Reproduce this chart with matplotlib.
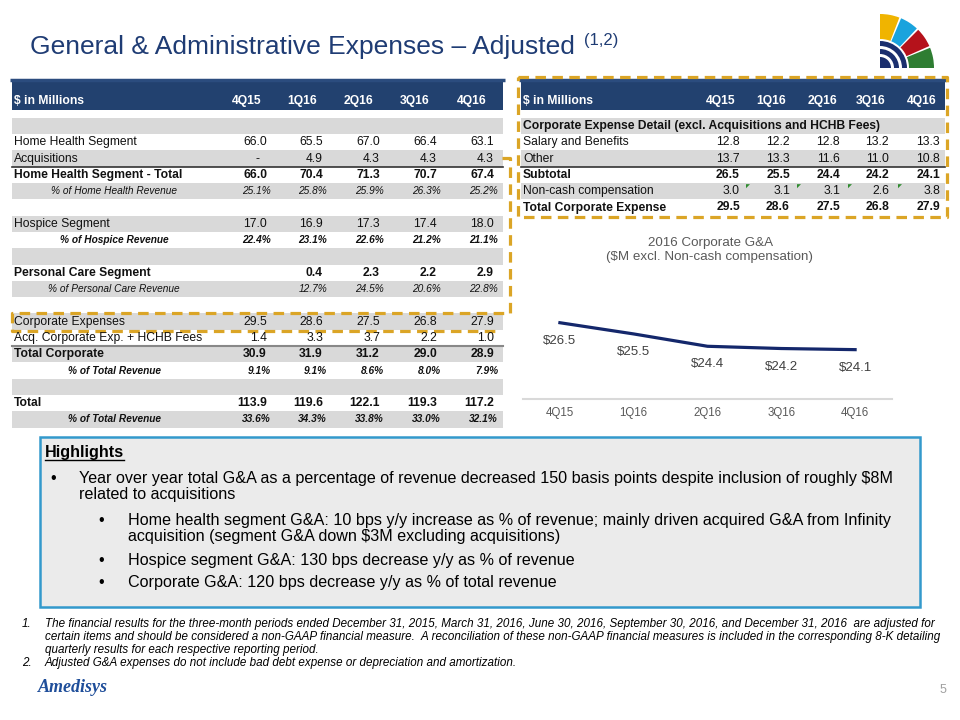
"""
G&A expenses slide: two tables, a small line chart and highlight notes
"""
import matplotlib.pyplot as plt
from matplotlib.patches import Rectangle, Wedge, Polygon

plt.rcParams['font.family'] = ['Liberation Sans', 'DejaVu Sans']

# ---- data ----
quarters = ['4Q15', '1Q16', '2Q16', '3Q16', '4Q16']

hh_segment = [66.0, 65.5, 67.0, 66.4, 63.1]
acquisitions = [0.0, 4.9, 4.3, 4.3, 4.3]
hh_total = [66.0, 70.4, 71.3, 70.7, 67.4]
hh_pct = [25.1, 25.8, 25.9, 26.3, 25.2]
hospice = [17.0, 16.9, 17.3, 17.4, 18.0]
hospice_pct = [22.4, 23.1, 22.6, 21.2, 21.1]
personal_care = [None, 0.4, 2.3, 2.2, 2.9]
pc_pct = [None, 12.7, 24.5, 20.6, 22.8]
corp_exp = [29.5, 28.6, 27.5, 26.8, 27.9]
acq_corp = [1.4, 3.3, 3.7, 2.2, 1.0]
total_corp = [30.9, 31.9, 31.2, 29.0, 28.9]
corp_pct = [9.1, 9.1, 8.6, 8.0, 7.9]
total = [113.9, 119.6, 122.1, 119.3, 117.2]
total_pct = [33.6, 34.3, 33.8, 33.0, 32.1]

salary = [12.8, 12.2, 12.8, 13.2, 13.3]
other = [13.7, 13.3, 11.6, 11.0, 10.8]
subtotal = [26.5, 25.5, 24.4, 24.2, 24.1]
noncash = [3.0, 3.1, 3.1, 2.6, 3.8]
total_corp_exp = [29.5, 28.6, 27.5, 26.8, 27.9]

left_rows = [
    ('', None, 'blank'),
    ('Home Health Segment', hh_segment, 'normal'),
    ('Acquisitions', acquisitions, 'normal'),
    ('Home Health Segment - Total', hh_total, 'bold'),
    ('% of Home Health Revenue', hh_pct, 'pct'),
    ('', None, 'blank'),
    ('Hospice Segment', hospice, 'normal'),
    ('% of Hospice Revenue', hospice_pct, 'pctb'),
    ('', None, 'blank'),
    ('Personal Care Segment', personal_care, 'bold'),
    ('% of Personal Care Revenue', pc_pct, 'pct'),
    ('', None, 'blank'),
    ('Corporate Expenses', corp_exp, 'normal'),
    ('Acq. Corporate Exp. + HCHB Fees', acq_corp, 'normal'),
    ('Total Corporate', total_corp, 'bold'),
    ('% of Total Revenue', corp_pct, 'pctb'),
    ('', None, 'blank'),
    ('Total', total, 'bold'),
    ('% of Total Revenue', total_pct, 'pctb'),
]

right_rows = [
    ('Corporate Expense Detail (excl. Acquisitions and HCHB Fees)', None, 'bold'),
    ('Salary and Benefits', salary, 'normal'),
    ('Other', other, 'normal'),
    ('Subtotal', subtotal, 'bold'),
    ('Non-cash compensation', noncash, 'normal'),
    ('Total Corporate Expense', total_corp_exp, 'bold'),
]

highlights = [
    (1, 'Year over year total G&A as a percentage of revenue decreased 150 basis points despite inclusion of roughly $8M'),
    (0, 'related to acquisitions'),
    (2, 'Home health segment G&A: 10 bps y/y increase as % of revenue; mainly driven acquired G&A from Infinity'),
    (0, 'acquisition (segment G&A down $3M excluding acquisitions)'),
    (2, 'Hospice segment G&A: 130 bps decrease y/y as % of revenue'),
    (2, 'Corporate G&A: 120 bps decrease y/y as % of total revenue'),
]

footnotes = [
    ('1.', 'The financial results for the three-month periods ended December 31, 2015, March 31, 2016, June 30, 2016, '
           'September 30, 2016, and December 31, 2016  are adjusted for'),
    ('', 'certain items and should be considered a non-GAAP financial measure.  A reconciliation of these non-GAAP '
         'financial measures is included in the corresponding 8-K detailing'),
    ('', 'quarterly results for each respective reporting period.'),
    ('2.', 'Adjusted G&A expenses do not include bad debt expense or depreciation and amortization.'),
]

NAVY = '#1F3C74'
HEADER = '#22416F'
GRAY = '#D9D9D9'
GOLD = '#DBA526'
ROW0, PITCH = 126.0, 16.3
FS, FS_PCT = 8.7, 7.3
FS_HL = 11.6

fig = plt.figure(figsize=(9.6, 7.2), dpi=100)
ax = fig.add_axes([0, 0, 1, 1])
ax.set_xlim(0, 960)
ax.set_ylim(720, 0)
ax.axis('off')


def fmt(v, pct=False):
    if v is None:
        return ''
    if v == 0:
        return '-  '
    return f'{v:.1f}%' if pct else f'{v:.1f}'


def draw_table(rows, x0, x1, label_x, hdr_right, val_right, pct_x=None):
    # header band
    ax.add_patch(Rectangle((x0, 81), x1 - x0, 29, color=HEADER, lw=0))
    ax.text(label_x, 101, '$ in Millions', color='white', fontsize=FS,
            fontweight='bold', va='center')
    for q, xr in zip(quarters, hdr_right):
        ax.text(xr, 101, q, color='white', fontsize=FS, fontweight='bold',
                va='center', ha='right')
    for i, (label, vals, kind) in enumerate(rows):
        yc = ROW0 + PITCH * i
        if i % 2 == 0:
            ax.add_patch(Rectangle((x0, yc - PITCH / 2), x1 - x0, PITCH,
                                   color=GRAY, lw=0))
        if kind == 'blank':
            continue
        pct = kind.startswith('pct')
        weight = 'bold' if kind in ('bold', 'pctb') else 'normal'
        style = 'italic' if pct else 'normal'
        size = FS_PCT if pct else FS
        if pct:
            ax.text(pct_x, yc, label, fontsize=size, fontweight=weight,
                    style=style, ha='center', va='center', color='#111111')
        else:
            ax.text(label_x, yc, label, fontsize=size, fontweight=weight,
                    va='center', color='#111111')
        if vals is None:
            continue
        for v, xr in zip(vals, val_right):
            ax.text(xr + (4 if pct else 0), yc, fmt(v, pct), fontsize=size,
                    fontweight=weight, style=style, ha='right', va='center',
                    color='#111111')


draw_table(left_rows, 12, 503, 14, [262, 317, 373, 430, 487],
           [267, 323, 380, 437, 494], pct_x=114)
draw_table(right_rows, 521, 945, 523, [735, 786, 837, 886, 937],
           [740, 790, 840, 889, 940])

# separator lines
sep_y = ROW0 + PITCH * 2.5
ax.plot([12, 503], [sep_y, sep_y], color='#333333', lw=1.2)
ax.plot([521, 945], [sep_y, sep_y], color='#333333', lw=1.2)
sep_y2 = ROW0 + PITCH * 13.5
ax.plot([12, 503], [sep_y2, sep_y2], color='#888888', lw=1.5)

# green cell markers on non-cash compensation
nc_y = ROW0 + PITCH * 4 - 7
for xm in [746, 797, 848, 898]:
    ax.add_patch(Polygon([(xm, nc_y), (xm + 4, nc_y), (xm, nc_y + 4)],
                 color='#2E8B2E', lw=0))

# title and rule
ax.text(30, 47, 'General & Administrative Expenses \u2013 Adjusted',
        fontsize=19, color=NAVY, va='center')
ax.text(584, 41, '(1,2)', fontsize=12, color=NAVY, va='center')
ax.plot([10, 505], [79.5, 79.5], color='#2B4C7E', lw=2.5,
        solid_capstyle='butt')
ax.plot([519, 946], [79.5, 79.5], color='#2B4C7E', lw=2.5,
        solid_capstyle='butt')

dash = (0, (3.3, 2.0))
# dashed box around corporate detail table
ax.plot([518, 947, 947, 518, 518], [77, 77, 217, 217, 77], color=GOLD,
        lw=2.3, linestyle=dash)
# dashed connector and box around corporate expenses row
ax.plot([502, 510, 510, 12, 12, 497], [158, 158, 313, 313, 331, 331],
        color=GOLD, lw=2.3, linestyle=dash)

# logo (top right)
cx, cy = 880, 68
for (a0, a1), col in zip([(69, 90), (47, 67), (24, 45), (0, 22)],
                         ['#F0B400', '#1AA3DD', '#B5121B', '#2E7D32']):
    ax.add_patch(Wedge((cx, cy), 54, 360 - a1, 360 - a0, width=25,
                       color=col, lw=0))
for r, w in [(11, 11), (19, 5), (27, 5)]:
    ax.add_patch(Wedge((cx, cy), r, 270, 360, width=w, color='#1B2F6E',
                       lw=0))

# line chart
ax2 = fig.add_axes([523 / 960, (720 - 399) / 720, 369 / 960, 129 / 720])
ax2.patch.set_alpha(0)
xs = range(len(quarters))
ax2.plot(xs, subtotal, color='#14276B', lw=2.3)
for x, v in zip(xs, subtotal):
    ax2.annotate(f'${v:.1f}', (x, v), xytext=(0, -13), textcoords='offset points',
                 ha='center', va='center', fontsize=9.5, color='#404040')
ax2.set_xlim(-0.5, 4.5)
ax2.set_ylim(19.7, 31.2)
ax2.set_xticks(list(xs))
ax2.set_xticklabels(quarters)
ax2.set_yticks([])
ax2.tick_params(axis='x', length=0, pad=6, labelsize=8.3, labelcolor='#595959')
for s in ['top', 'right', 'left']:
    ax2.spines[s].set_visible(False)
ax2.spines['bottom'].set_color('#D9D9D9')
ax2.spines['bottom'].set_linewidth(1.5)
ax.text(710, 250, '2016 Corporate G&A\n($M excl. Non-cash compensation)',
        ha='center', va='center', fontsize=9.6, color='#595959',
        linespacing=1.15)

# highlights box
ax.add_patch(Rectangle((40, 437), 880, 170, facecolor='#EBEBEB',
                       edgecolor='#3399CC', lw=1.8))
hl = ax.text(45, 452, 'Highlights', fontsize=FS_HL, fontweight='bold',
             va='center')
ys = [478, 495, 520, 537, 560, 582]
for (lvl, txt), y in zip(highlights, ys):
    if lvl == 1:
        ax.text(50, y, '\u2022', fontsize=FS_HL, va='center')
    if lvl == 2:
        ax.text(98, y, '\u2022', fontsize=FS_HL, va='center')
    tx = 79 if (lvl == 1 or (lvl == 0 and y < 500)) else 128
    ax.text(tx, y, txt, fontsize=FS_HL, va='center')

# footnotes
for (num, txt), y in zip(footnotes, [624, 637, 650, 663]):
    if num:
        ax.text(22, y, num, fontsize=8.4, style='italic', va='center')
    ax.text(45, y, txt, fontsize=8.4, style='italic', va='center')

# bottom logo and page number
ax.text(38, 687, 'Amedisys', fontsize=13, fontweight='bold', style='italic',
        family='Liberation Serif', color='#1F4E9A', va='center')
ax.text(940, 690, '5', fontsize=9, color='#A0A0A0', va='center')

# underline for "Highlights"
fig.canvas.draw()
bb = hl.get_window_extent()
ax.plot([bb.x0, bb.x1], [720 - bb.y0 + 0.5] * 2, color='black', lw=1)

fig.savefig('out.png', dpi=100)
